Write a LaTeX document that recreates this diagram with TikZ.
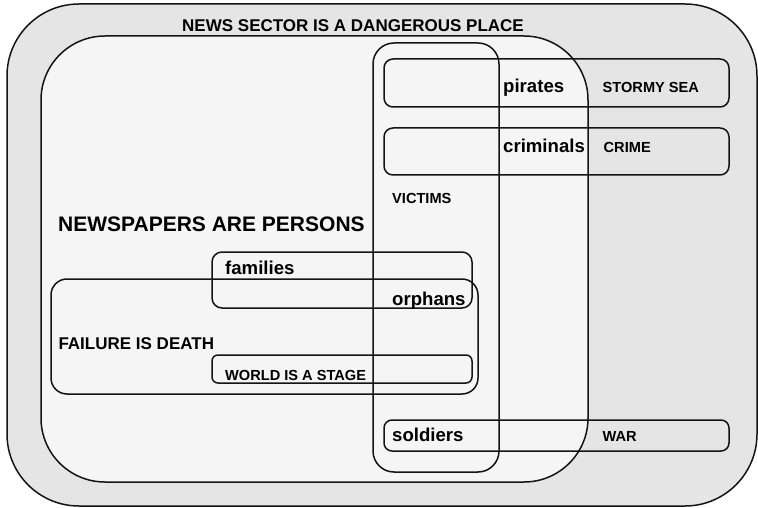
\documentclass[tikz,border=0pt]{standalone}
\usepackage{fontspec}
\setmainfont{Liberation Sans}
\definecolor{outerfill}{HTML}{E5E5E5}
\definecolor{innerfill}{HTML}{F5F5F5}
\definecolor{edge}{HTML}{141414}
\begin{document}
\begin{tikzpicture}[x=1pt,y=-1pt,
  frame/.style={draw=edge,line width=1.5pt},
  lbl/.style={anchor=base west,inner sep=0pt,font=\bfseries},
  big/.style={lbl,font=\bfseries\fontsize{21}{21}\selectfont},
  mid/.style={lbl,font=\bfseries\fontsize{17}{17}\selectfont},
  low/.style={lbl,font=\bfseries\fontsize{18.6}{19}\selectfont},
  small/.style={lbl,font=\bfseries\fontsize{14.6}{15}\selectfont}]
\useasboundingbox (0,0) rectangle (758,508);
% outer domain
\draw[frame,fill=outerfill,rounded corners=72pt] (7,4) rectangle (757,506);
% newspapers are persons
\draw[frame,fill=innerfill,rounded corners=64pt] (41,36) rectangle (588,482);
% victims
\draw[frame,rounded corners=21pt] (373,43) rectangle (499,472);
% source domains rows
\draw[frame,rounded corners=9pt] (384,59) rectangle (729,107);
\draw[frame,rounded corners=9pt] (384,128) rectangle (729,175);
\draw[frame,rounded corners=8pt] (384,420) rectangle (729,451);
% families / orphans
\draw[frame,rounded corners=10pt] (212,252) rectangle (472,308);
% failure is death
\draw[frame,rounded corners=16pt] (51,279) rectangle (478,394);
% world is a stage
\draw[frame,rounded corners=6pt] (212,355) rectangle (472,383);
% texts
\node[mid] (t1) at (182,31.5) {NEWS SECTOR IS A DANGEROUS PLACE};
\node[big] (t2) at (58,231.5) {NEWSPAPERS ARE PERSONS};
\node[low] (t3) at (503,92.5) {pirates};
\node[small] (t4) at (602.5,93) {STORMY SEA};
\node[low] (t5) at (503,152.5) {criminals};
\node[small] (t6) at (603.5,153) {CRIME};
\node[small] (t7) at (392,204) {VICTIMS};
\node[low] (t8) at (225,274.3) {families};
\node[low] (t9) at (392,305) {orphans};
\node[mid] (t10) at (58.3,349.3) {FAILURE IS DEATH};
\node[small] (t11) at (225,380) {WORLD IS A STAGE};
\node[low] (t12) at (392,441) {soldiers};
\node[small] (t13) at (602.5,441) {WAR};
\end{tikzpicture}
\end{document}
